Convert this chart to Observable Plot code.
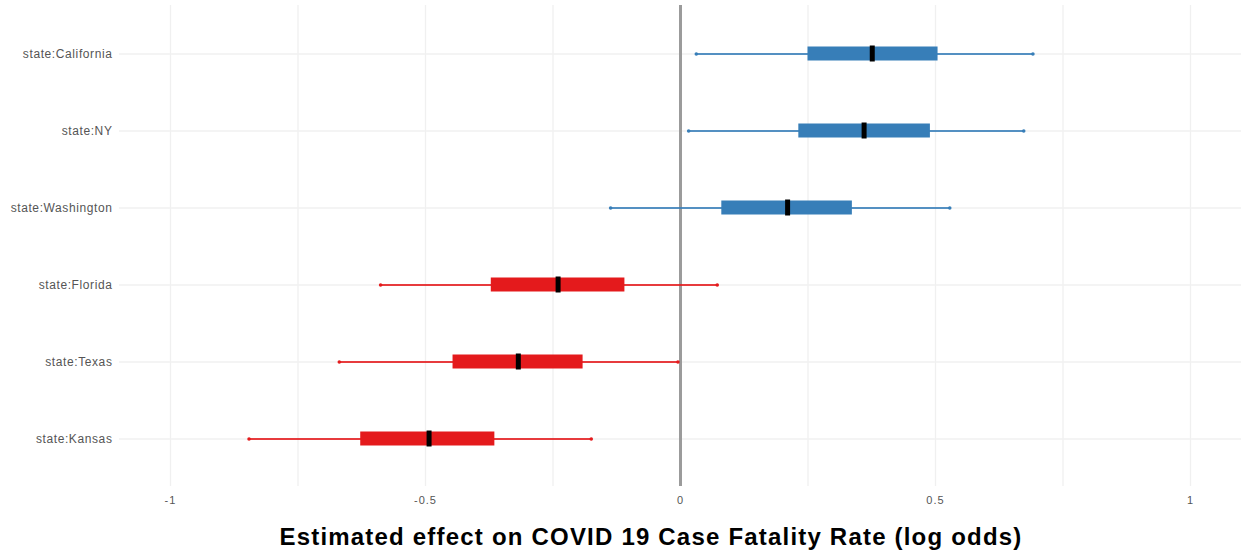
<!DOCTYPE html>
<html>
<head>
<meta charset="utf-8">
<script src="https://cdn.jsdelivr.net/npm/d3@7"></script>
<script src="https://cdn.jsdelivr.net/npm/@observablehq/plot@0.6"></script>
<style>
  html, body { margin: 0; padding: 0; background: #ffffff; }
  #chart { width: 1246px; }
  #title {
    font-family: "Liberation Sans", Arial, sans-serif;
    font-weight: bold;
    font-size: 24px;
    letter-spacing: 1.2px;
    color: #000;
    text-align: center;
    width: 1246px;
    padding-left: 56px;
    box-sizing: border-box;
    margin-top: 8px;
    white-space: nowrap;
  }
  #chart svg g[aria-label="y-axis tick label"] text { letter-spacing: 0.6px; }
  #chart svg g[aria-label="x-axis tick label"] text { letter-spacing: 1px; }
</style>
</head>
<body>
<div id="chart"></div>
<div id="title">Estimated effect on COVID 19 Case Fatality Rate (log odds)</div>
<script>
// Posterior summaries of state effects (log odds)
const states = ["state:California", "state:NY", "state:Washington", "state:Florida", "state:Texas", "state:Kansas"];
const lower  = [0.031, 0.016, -0.137, -0.588, -0.669, -0.846];
const q25    = [0.250, 0.232, 0.081, -0.371, -0.446, -0.627];
const median = [0.376, 0.360, 0.210, -0.240, -0.318, -0.493];
const q75    = [0.505, 0.490, 0.337, -0.109, -0.191, -0.364];
const upper  = [0.691, 0.673, 0.528, 0.072, -0.005, -0.175];
const xTicks = [-1, -0.5, 0, 0.5, 1];
const xGrid  = [-1, -0.75, -0.5, -0.25, 0.25, 0.5, 0.75, 1];

const rows = states.map((s, i) => ({
  state: s, lo: lower[i], q1: q25[i], med: median[i], q3: q75[i], hi: upper[i],
  sign: median[i] >= 0 ? "pos" : "neg"
}));
const ends = rows.flatMap(d => [{state: d.state, x: d.lo, sign: d.sign}, {state: d.state, x: d.hi, sign: d.sign}]);

const colorScale = {domain: ["pos", "neg"], range: ["#377EB8", "#E41A1C"]};

const chart = Plot.plot({
  width: 1246,
  height: 515,
  marginLeft: 119,
  marginRight: 5,
  marginTop: 5,
  marginBottom: 29,
  style: {fontFamily: "'Liberation Sans', Arial, sans-serif", background: "#ffffff"},
  x: {domain: [-1.1, 1.1], ticks: xTicks, tickFormat: d => String(d), tickSize: 0, tickPadding: 10, label: null},
  y: {type: "band", domain: states, paddingInner: 0, paddingOuter: 0.1, tickSize: 0, tickPadding: 7, label: null},
  color: colorScale,
  marks: [
    Plot.ruleX(xGrid, {stroke: "#f0f0f0", strokeWidth: 1.3}),
    Plot.ruleY(states, {y: d => d, stroke: "#f0f0f0", strokeWidth: 1.3}),
    Plot.ruleX([0], {stroke: "#9b9b9b", strokeWidth: 3}),
    Plot.ruleY(rows, {y: "state", x1: "lo", x2: "hi", stroke: "sign", strokeWidth: 2, strokeOpacity: 0.85}),
    Plot.dot(ends, {y: "state", x: "x", fill: "sign", r: 1.8, stroke: null}),
    Plot.barX(rows, {y: "state", x1: "q1", x2: "q3", fill: "sign", insetTop: 31.5, insetBottom: 31.5}),
    Plot.tickX(rows, {y: "state", x: "med", stroke: "#000000", strokeWidth: 5, insetTop: 30.5, insetBottom: 30.5}),
    Plot.axisX({ticks: xTicks, tickFormat: d => String(d), tickSize: 0, tickPadding: 10, fontSize: 11, color: "#555555"}),
    Plot.axisY({tickSize: 0, tickPadding: 7, fontSize: 12, color: "#555555"})
  ]
});
document.getElementById("chart").appendChild(chart);
</script>
</body>
</html>
